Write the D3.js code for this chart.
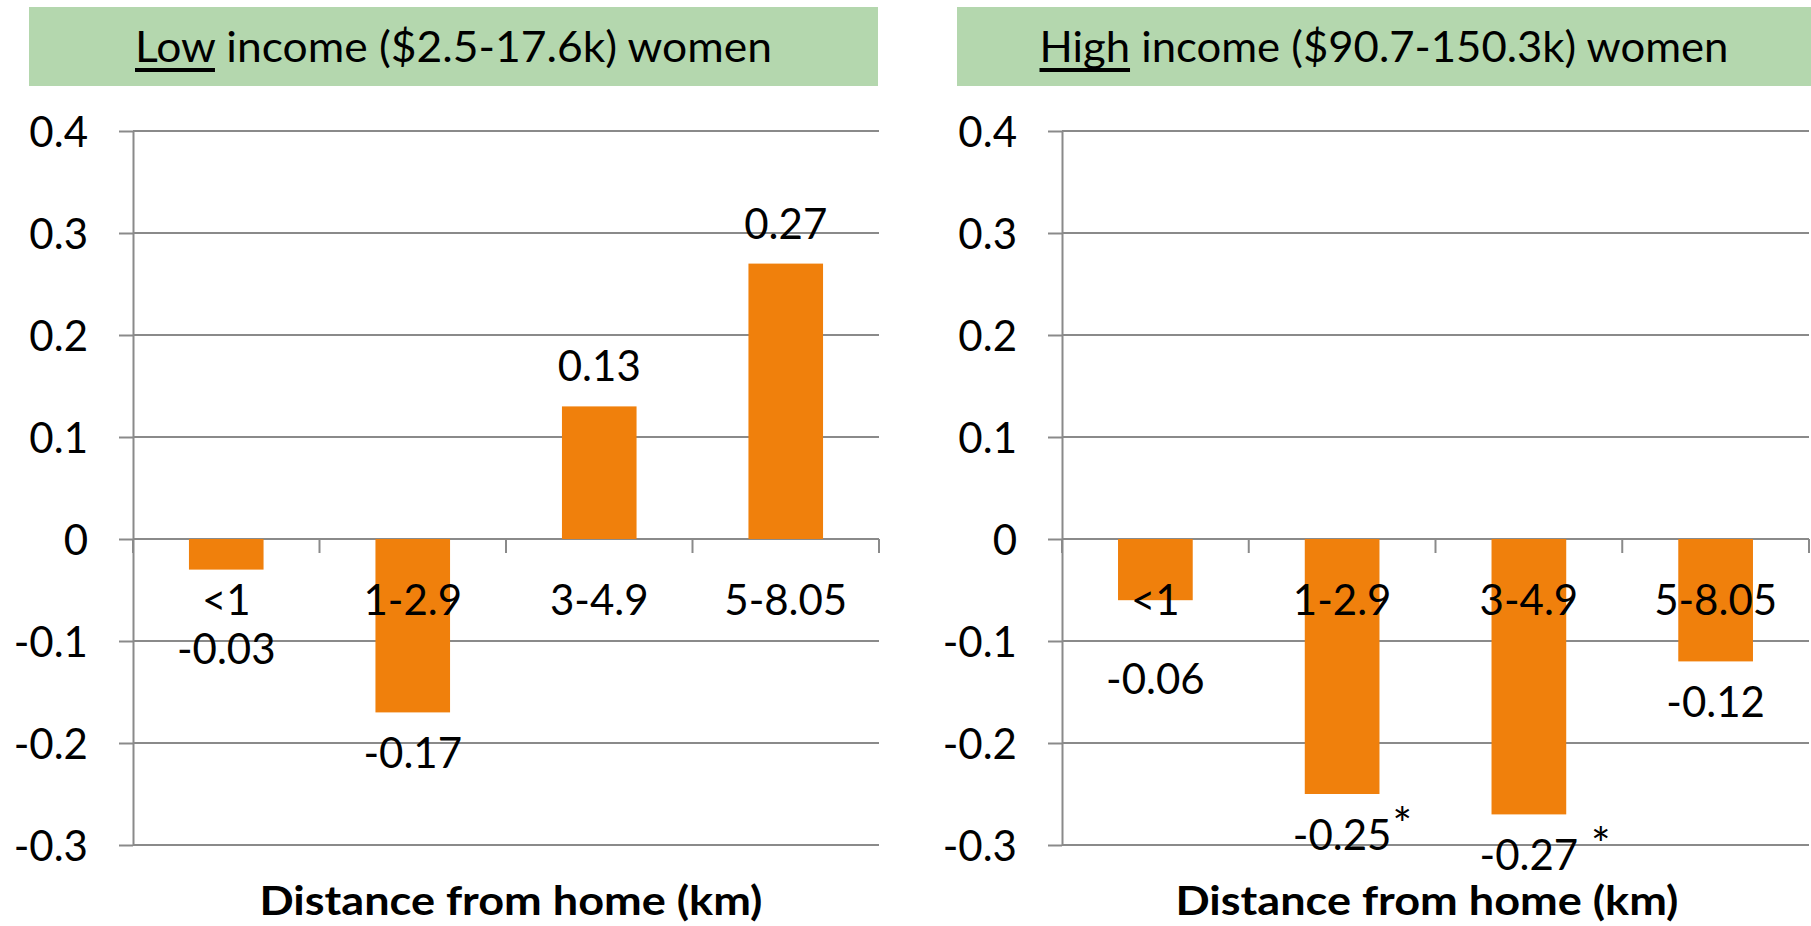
<!DOCTYPE html>
<html>
<head>
<meta charset="utf-8">
<script src="https://cdn.jsdelivr.net/npm/d3@7"></script>
<style>
  html, body { margin: 0; padding: 0; background: #ffffff; }
  svg { display: block; }
  text { font-family: Lato, "Open Sans", sans-serif; fill: #000; }
</style>
</head>
<body>
<svg id="chart" width="1811" height="926"></svg>
<script>
// Distance categories shared by both panels
const categories = ["<1", "1-2.9", "3-4.9", "5-8.05"];

// Coefficients per distance band
const lowIncomeValues = [-0.03, -0.17, 0.13, 0.27];
const highIncomeValues = [-0.06, -0.25, -0.27, -0.12];

// Significance marks appended to value labels
const lowIncomeMarks = ["", "", "", ""];
const highIncomeMarks = ["", "*", " *", ""];

// Y axis ticks
const yTicks = [0.4, 0.3, 0.2, 0.1, 0, -0.1, -0.2, -0.3];

// Panel headings: underlined word, then the rest
const titleEmphasis = ["Low", "High"];
const titleRest = [" income ($2.5-17.6k) women", " income ($90.7-150.3k) women"];

const xAxisTitle = "Distance from home (km)";

// ---- layout ----
const svg = d3.select("#chart");
const BAR = "#F0800C";
const GRID = "#8a8a8a";
const GREEN = "#B4D7AE";
const LABEL_SIZE = "42px";

const panels = [
  { values: lowIncomeValues, marks: lowIncomeMarks, plotL: 133, plotR: 879,
    boxL: 29, boxR: 878, titleW: 637, xTitleX: 511 },
  { values: highIncomeValues, marks: highIncomeMarks, plotL: 1062, plotR: 1809,
    boxL: 957, boxR: 1811, titleW: 689, xTitleX: 1427 }
];

const y = d3.scaleLinear().domain([-0.3, 0.4]).range([845, 131]);
const tickLen = 14;
const catBaseline = 615;

panels.forEach((p, pi) => {
  const g = svg.append("g");

  // heading box
  g.append("rect")
    .attr("x", p.boxL).attr("y", 7)
    .attr("width", p.boxR - p.boxL).attr("height", 79)
    .attr("fill", GREEN);

  const title = g.append("text")
    .attr("x", (p.boxL + p.boxR) / 2).attr("y", 62)
    .attr("text-anchor", "middle")
    .attr("textLength", p.titleW)
    .attr("lengthAdjust", "spacingAndGlyphs")
    .style("font-size", "42px")
    .style("white-space", "pre");
  title.append("tspan").text(titleEmphasis[pi]);
  title.append("tspan").text(titleRest[pi]);
  const tNode = title.node();
  const n = titleEmphasis[pi].length;
  const ux0 = tNode.getStartPositionOfChar(0).x;
  const ux1 = tNode.getEndPositionOfChar(n - 1).x;
  g.append("rect")
    .attr("x", ux0).attr("y", 68)
    .attr("width", ux1 - ux0).attr("height", 4)
    .attr("fill", "#000");

  const x = d3.scaleBand()
    .domain(categories)
    .range([p.plotL, p.plotR])
    .paddingInner(0.6)
    .paddingOuter(0.3);

  // horizontal gridlines
  g.append("g").selectAll("line")
    .data(yTicks)
    .join("line")
    .attr("x1", p.plotL).attr("x2", p.plotR)
    .attr("y1", d => y(d)).attr("y2", d => y(d))
    .attr("stroke", GRID).attr("stroke-width", 2);

  // y axis with labels
  const yAxis = d3.axisLeft(y)
    .tickValues(yTicks)
    .tickSizeInner(tickLen)
    .tickSizeOuter(0)
    .tickPadding(31)
    .tickFormat(d => d === 0 ? "0" : String(d));
  const ya = g.append("g")
    .attr("transform", `translate(${p.plotL},0)`)
    .call(yAxis);
  ya.select(".domain").attr("stroke", GRID).attr("stroke-width", 2);
  ya.selectAll(".tick line").attr("stroke", GRID).attr("stroke-width", 2);
  ya.selectAll(".tick text")
    .attr("font-family", null)
    .style("font-size", LABEL_SIZE)
    .attr("dy", "0.36em");

  // category tick marks below the zero line
  const bounds = d3.range(categories.length + 1).map(i => p.plotL + i * (p.plotR - p.plotL) / categories.length);
  g.append("g").selectAll("line")
    .data(bounds)
    .join("line")
    .attr("x1", d => d).attr("x2", d => d)
    .attr("y1", y(0)).attr("y2", y(0) + tickLen)
    .attr("stroke", GRID).attr("stroke-width", 2);

  const data = categories.map((c, i) => ({ c, v: p.values[i], mark: p.marks[i] }));

  // bars
  g.append("g").selectAll("rect")
    .data(data)
    .join("rect")
    .attr("x", d => x(d.c))
    .attr("width", x.bandwidth())
    .attr("y", d => Math.min(y(d.v), y(0)))
    .attr("height", d => Math.abs(y(d.v) - y(0)))
    .attr("fill", BAR);

  // category labels
  g.append("g").selectAll("text")
    .data(categories)
    .join("text")
    .attr("x", d => x(d) + x.bandwidth() / 2)
    .attr("y", catBaseline)
    .attr("text-anchor", "middle")
    .style("font-size", LABEL_SIZE)
    .text(d => d);

  // value labels: above positive bars, below negative ones;
  // short negative bars drop their label under the category name
  const labelY = d => {
    if (d.v >= 0) return y(d.v) - 25;
    const near = y(d.v) + 56;
    return near < catBaseline + 45 ? y(d.v) + 94 : near;
  };
  const labels = g.append("g").selectAll("text.val")
    .data(data)
    .join("text")
    .attr("class", "val")
    .attr("x", d => x(d.c) + x.bandwidth() / 2)
    .attr("y", labelY)
    .attr("text-anchor", "middle")
    .style("font-size", LABEL_SIZE)
    .text(d => String(d.v));

  // significance marks
  labels.each(function (d) {
    if (!d.mark) return;
    const bb = this.getBBox();
    g.append("text")
      .attr("x", bb.x + bb.width + 1)
      .attr("y", labelY(d) - 9)
      .style("font-size", "46px")
      .style("white-space", "pre")
      .text(d.mark);
  });

  // x axis title
  g.append("text")
    .attr("x", p.xTitleX).attr("y", 915)
    .attr("text-anchor", "middle")
    .attr("textLength", 503)
    .attr("lengthAdjust", "spacingAndGlyphs")
    .style("font-size", "40px")
    .style("font-weight", "bold")
    .text(xAxisTitle);
});
</script>
</body>
</html>
